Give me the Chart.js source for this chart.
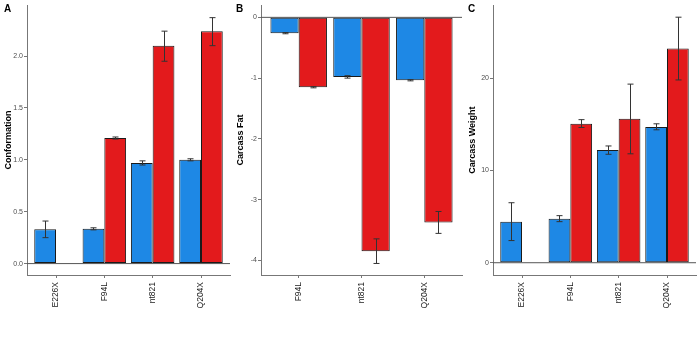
<!DOCTYPE html>
<html>
<head>
<meta charset="utf-8">
<script src="https://cdn.jsdelivr.net/npm/chart.js@4"></script>
<style>
  body { margin: 0; background: #fff; }
  .panel { position: absolute; top: 0; }
</style>
</head>
<body>
<div class="panel" style="left:0px"><canvas id="chartA" width="232" height="351"></canvas></div>
<div class="panel" style="left:232px"><canvas id="chartB" width="232" height="351"></canvas></div>
<div class="panel" style="left:464px"><canvas id="chartC" width="236" height="351"></canvas></div>
<script>
// panel A - conformation
const catsA = ['E226X', 'F94L', 'nt821', 'Q204X'];
const confBlue = [0.33, 0.335, 0.97, 1.00];
const confBlueLo = [0.25, 0.325, 0.95, 0.99];
const confBlueHi = [0.41, 0.345, 0.99, 1.01];
const confRed = [null, 1.21, 2.10, 2.24];
const confRedLo = [null, 1.20, 1.95, 2.10];
const confRedHi = [null, 1.22, 2.24, 2.37];
const ticksA = [0, 0.5, 1.0, 1.5, 2.0];

// panel B - carcass fat
const catsB = ['F94L', 'nt821', 'Q204X'];
const fatBlue = [-0.26, -0.98, -1.035];
const fatBlueLo = [-0.27, -1.00, -1.045];
const fatBlueHi = [-0.25, -0.96, -1.025];
const fatRed = [-1.15, -3.85, -3.375];
const fatRedLo = [-1.16, -4.05, -3.555];
const fatRedHi = [-1.14, -3.645, -3.195];
const ticksB = [-4, -3, -2, -1, 0];

// panel C - carcass weight
const catsC = ['E226X', 'F94L', 'nt821', 'Q204X'];
const wtBlue = [4.45, 4.77, 12.2, 14.7];
const wtBlueLo = [2.4, 4.45, 11.75, 14.4];
const wtBlueHi = [6.5, 5.1, 12.65, 15.05];
const wtRed = [null, 15.05, 15.6, 23.2];
const wtRedLo = [null, 14.65, 11.8, 19.8];
const wtRedHi = [null, 15.5, 19.35, 26.6];
const ticksC = [0, 10, 20];

const BLUE = '#1E88E5';
const RED = '#E31A1C';
const FONT = "'Liberation Sans', Arial, sans-serif";

const errorBars = {
  id: 'errorBars',
  beforeDatasetsDraw(chart) {
    // zero line
    const ctx = chart.ctx, y = chart.scales.y.getPixelForValue(0);
    ctx.save();
    ctx.strokeStyle = '#555';
    ctx.lineWidth = 1;
    ctx.beginPath();
    ctx.moveTo(chart.chartArea.left, y);
    ctx.lineTo(chart.chartArea.right, y);
    ctx.stroke();
    ctx.restore();
  },
  afterDatasetsDraw(chart) {
    const ctx = chart.ctx, ys = chart.scales.y;
    ctx.save();
    ctx.strokeStyle = '#333';
    ctx.lineWidth = 1;
    chart.data.datasets.forEach((ds, i) => {
      chart.getDatasetMeta(i).data.forEach((bar, j) => {
        if (ds.lo[j] == null) return;
        const x = Math.round(bar.x) + 0.5;
        const y1 = ys.getPixelForValue(ds.lo[j]);
        const y2 = ys.getPixelForValue(ds.hi[j]);
        ctx.beginPath();
        ctx.moveTo(x, y1); ctx.lineTo(x, y2);
        ctx.moveTo(x - 3, y1); ctx.lineTo(x + 3, y1);
        ctx.moveTo(x - 3, y2); ctx.lineTo(x + 3, y2);
        ctx.stroke();
      });
    });
    // panel letter
    ctx.fillStyle = '#000';
    ctx.font = 'bold 10px ' + FONT;
    ctx.textBaseline = 'top';
    ctx.fillText(chart.options.plugins.letter, 4, 4);
    ctx.restore();
  }
};

function makePanel(id, letter, cats, blue, blueLo, blueHi, red, redLo, redHi, yTicks, yMin, yMax, title, digits, axisW, padR) {
  new Chart(document.getElementById(id), {
    type: 'bar',
    data: {
      datasets: [
        { data: blue.map((v, i) => ({ x: i, y: v })), lo: blueLo, hi: blueHi, backgroundColor: BLUE },
        { data: red.map((v, i) => ({ x: i, y: v })), lo: redLo, hi: redHi, backgroundColor: RED }
      ]
    },
    options: {
      responsive: false,
      animation: false,
      layout: { padding: { top: 3, right: padR, left: 0, bottom: 0 } },
      datasets: { bar: { categoryPercentage: 0.9, barPercentage: 1.0, borderColor: '#1a1a1a', borderWidth: 1, borderSkipped: false } },
      plugins: { legend: { display: false }, tooltip: { enabled: false }, letter: letter },
      scales: {
        x: {
          type: 'linear', offset: false,
          min: -0.6, max: cats.length - 0.4,
          afterBuildTicks: s => { s.ticks = cats.map((c, i) => ({ value: i })); },
          afterFit: s => { s.height = 76; },
          grid: { offset: false, drawOnChartArea: false, tickLength: 3, color: '#777' },
          border: { color: '#777', width: 1 },
          ticks: { minRotation: 90, maxRotation: 90, padding: 4, color: '#1a1a1a', font: { family: FONT, size: 8.5 },
                   callback: v => cats[Math.round(v)] }
        },
        y: {
          min: yMin, max: yMax,
          afterBuildTicks: s => { s.ticks = yTicks.map(v => ({ value: v })); },
          afterFit: s => { s.width = axisW; },
          grid: { drawOnChartArea: false, tickLength: 3, color: '#777' },
          border: { color: '#777', width: 1 },
          ticks: { padding: 1, color: '#4d4d4d', font: { family: FONT, size: 7 },
                   callback: v => v.toFixed(digits) },
          title: { display: true, text: title, color: '#000', padding: { top: 3, bottom: 0 }, font: { family: FONT, size: 9, weight: 'bold' } }
        }
      }
    },
    plugins: [errorBars]
  });
}

makePanel('chartA', 'A', catsA, confBlue, confBlueLo, confBlueHi, confRed, confRedLo, confRedHi, ticksA, -0.11, 2.49, 'Conformation', 1, 27, 2);
makePanel('chartB', 'B', catsB, fatBlue, fatBlueLo, fatBlueHi, fatRed, fatRedLo, fatRedHi, ticksB, -4.24, 0.2, 'Carcass Fat', 0, 29, 2);
makePanel('chartC', 'C', catsC, wtBlue, wtBlueLo, wtBlueHi, wtRed, wtRedLo, wtRedHi, ticksC, -1.33, 27.9, 'Carcass Weight', 0, 29, 4);
</script>
</body>
</html>
